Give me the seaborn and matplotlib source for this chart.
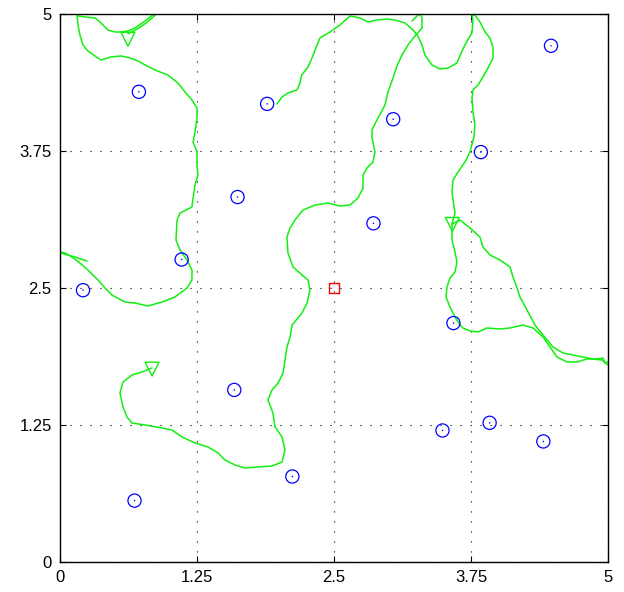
import numpy as np
import seaborn as sns
import matplotlib
matplotlib.use("Agg")
import matplotlib.pyplot as plt

# blue circles (targets)
circle_x = [4.48, 0.72, 1.89, 3.04, 3.84, 1.62, 2.86, 1.11, 0.21, 3.59, 1.59, 3.49, 3.92, 4.41, 2.12, 0.68]
circle_y = [4.71, 4.29, 4.18, 4.04, 3.74, 3.33, 3.09, 2.76, 2.48, 2.18, 1.57, 1.20, 1.27, 1.10, 0.78, 0.56]

# red square (centre)
centre_x = [2.5]
centre_y = [2.5]

# green start triangles
start_x = [0.62, 0.84, 3.58]
start_y = [4.77, 1.76, 3.08]

# green trajectories
path_a1_x = [0.858, 0.776, 0.684, 0.620, 0.557, 0.502, 0.438, 0.374, 0.319, 0.228, 0.164, 0.155]
path_a1_y = [5.0, 4.936, 4.872, 4.845, 4.836, 4.836, 4.854, 4.918, 4.964, 4.973, 4.982, 5.0]

path_a1b_x = [0.62, 0.70, 0.79, 0.87]
path_a1b_y = [4.82, 4.86, 4.92, 4.99]

path_a2_x = [0.155, 0.164, 0.182, 0.210, 0.255, 0.319, 0.374, 0.465, 0.557, 0.639, 0.712, 0.776,
             0.867, 0.985, 1.077, 1.141, 1.204, 1.250, 1.250, 1.232, 1.214, 1.250, 1.250, 1.259,
             1.232, 1.214, 1.204, 1.095, 1.068, 1.058, 1.095, 1.159, 1.204, 1.204, 1.159, 1.049,
             0.931, 0.803, 0.684, 0.593, 0.474, 0.411, 0.347, 0.255, 0.182, 0.109, 0.046, 0.0]
path_a2_y = [5.0, 4.900, 4.808, 4.717, 4.662, 4.617, 4.580, 4.608, 4.617, 4.599, 4.571, 4.535,
             4.489, 4.443, 4.370, 4.288, 4.215, 4.142, 4.051, 3.923, 3.832, 3.741, 3.622, 3.531,
             3.440, 3.321, 3.239, 3.184, 3.120, 2.938, 2.847, 2.755, 2.664, 2.573, 2.500, 2.418,
             2.372, 2.336, 2.363, 2.372, 2.436, 2.500, 2.573, 2.664, 2.728, 2.783, 2.819, 2.828]

path_a3_x = [0.0, 0.073, 0.164, 0.246]
path_a3_y = [2.819, 2.801, 2.774, 2.746]

path_b_x = [3.577, 3.604, 3.586, 3.577, 3.586, 3.631, 3.695, 3.741, 3.777, 3.786, 3.768, 3.759,
            3.768, 3.814, 3.859, 3.905, 3.951, 3.951, 3.923, 3.878, 3.832, 3.786, 3.759, 3.768,
            3.759, 3.714, 3.668, 3.622, 3.540, 3.467, 3.394, 3.330, 3.303, 3.266, 3.221, 3.148,
            3.057, 2.984, 2.892, 2.810, 2.737, 2.646, 2.555, 2.464, 2.372, 2.345, 2.299, 2.263,
            2.205, 2.190, 2.162, 2.080, 2.026, 1.980]
path_b_y = [3.084, 3.184, 3.303, 3.376, 3.485, 3.558, 3.650, 3.741, 3.878, 3.987, 4.106, 4.234,
            4.307, 4.352, 4.425, 4.507, 4.599, 4.690, 4.781, 4.836, 4.927, 4.991, 4.991, 4.936,
            4.827, 4.754, 4.662, 4.553, 4.507, 4.498, 4.535, 4.626, 4.717, 4.799, 4.854, 4.918,
            4.945, 4.954, 4.945, 4.927, 4.964, 4.982, 4.900, 4.836, 4.781, 4.717, 4.599, 4.516,
            4.443, 4.370, 4.307, 4.279, 4.243, 4.179]

path_c_x = [3.212, 3.257, 3.285, 3.303, 3.303, 3.239, 3.175, 3.120, 3.075, 3.038, 2.993, 2.965,
            2.892, 2.847, 2.847, 2.874, 2.856, 2.801, 2.765, 2.765, 2.719, 2.646, 2.555, 2.445,
            2.327, 2.217, 2.144, 2.099, 2.071, 2.080, 2.126, 2.208, 2.263, 2.281, 2.254, 2.208,
            2.117, 2.099, 2.071, 2.053, 2.035, 1.989, 1.934, 1.898, 1.943, 1.962, 2.026, 2.053,
            2.026, 1.934, 1.807, 1.688, 1.597, 1.505, 1.442, 1.350, 1.232, 1.113, 1.022, 0.931,
            0.776, 0.657, 0.611, 0.575, 0.547, 0.575, 0.657, 0.748, 0.839]
path_c_y = [4.936, 4.982, 5.0, 4.964, 4.872, 4.799, 4.717, 4.626, 4.526, 4.416, 4.288, 4.170,
            4.033, 3.942, 3.869, 3.741, 3.650, 3.595, 3.531, 3.412, 3.321, 3.257, 3.248, 3.275,
            3.257, 3.212, 3.120, 3.047, 2.965, 2.819, 2.692, 2.619, 2.573, 2.482, 2.363, 2.272,
            2.162, 2.053, 1.962, 1.843, 1.724, 1.633, 1.569, 1.478, 1.359, 1.232, 1.141, 1.022,
            0.912, 0.876, 0.867, 0.858, 0.885, 0.931, 0.995, 1.049, 1.086, 1.141, 1.204, 1.223,
            1.250, 1.268, 1.323, 1.414, 1.542, 1.642, 1.706, 1.734, 1.770]

path_e1_x = [3.577, 3.650, 3.741, 3.832, 3.859, 3.923, 4.015, 4.106, 4.133, 4.170, 4.197, 4.261,
             4.334, 4.407, 4.498, 4.589, 4.681, 4.772, 4.863, 4.945, 5.0]
path_e1_y = [3.084, 3.120, 3.047, 2.965, 2.874, 2.801, 2.755, 2.692, 2.600, 2.500, 2.418, 2.299,
             2.162, 2.071, 1.962, 1.907, 1.889, 1.870, 1.852, 1.843, 1.797]

path_e2_x = [3.577, 3.577, 3.577, 3.604, 3.622, 3.604, 3.558, 3.531, 3.522, 3.558, 3.604, 3.650,
             3.677, 3.741, 3.814, 3.896, 4.015, 4.106, 4.224, 4.316, 4.407, 4.471, 4.535, 4.626,
             4.717, 4.808, 4.900, 4.954, 4.973, 5.0]
path_e2_y = [3.084, 3.029, 2.938, 2.828, 2.737, 2.646, 2.591, 2.509, 2.418, 2.327, 2.235, 2.162,
             2.135, 2.108, 2.099, 2.135, 2.126, 2.135, 2.162, 2.135, 2.053, 1.962, 1.870, 1.825,
             1.825, 1.852, 1.852, 1.861, 1.816, 1.825]

tick_values = [0, 1.25, 2.5, 3.75, 5]
tick_labels = ["0", "1.25", "2.5", "3.75", "5"]

sns.set_theme(style="white")
plt.rcParams["font.family"] = ["Liberation Sans", "DejaVu Sans"]

green = "#10f010"

fig = plt.figure(figsize=(6.24, 5.92), dpi=100)
ax = fig.add_axes([60 / 624, 30 / 592, 548 / 624, 548 / 592])

paths = [(path_a1_x, path_a1_y), (path_a1b_x, path_a1b_y), (path_a2_x, path_a2_y),
         (path_a3_x, path_a3_y), (path_b_x, path_b_y), (path_c_x, path_c_y),
         (path_e1_x, path_e1_y), (path_e2_x, path_e2_y)]
for px, py in paths:
    sns.lineplot(x=px, y=py, sort=False, estimator=None, color=green, lw=1.1, ax=ax)

# start markers
sns.scatterplot(x=start_x, y=start_y, marker="v", s=100, color=green,
                facecolors="none", edgecolor=green, linewidth=1.0, ax=ax, zorder=3)

# targets with centre dots
sns.scatterplot(x=circle_x, y=circle_y, marker="o", s=90, color="blue",
                facecolors="none", edgecolor="blue", linewidth=0.9, ax=ax, zorder=3)
sns.scatterplot(x=circle_x, y=circle_y, marker="o", s=1.2, color="blue",
                edgecolor="none", linewidth=0, ax=ax, zorder=3)

sns.scatterplot(x=centre_x, y=centre_y, marker="s", s=48, color="#ff0000",
                facecolors="none", edgecolor="#ff0000", linewidth=1.0, ax=ax, zorder=4)

ax.set_xlim(0, 5)
ax.set_ylim(0, 5)
ax.set_xticks(tick_values)
ax.set_xticklabels(tick_labels)
ax.set_yticks(tick_values)
ax.set_yticklabels(tick_labels)
ax.tick_params(direction="in", length=4, width=0.8, color="black", labelsize=12,
               top=True, right=True, bottom=True, left=True, pad=6, labelcolor="black")

ax.grid(True, color="black", linewidth=0.8, linestyle=(0, (1, 8)))
for s in ax.spines.values():
    s.set_visible(True)
    s.set_color("black")
    s.set_linewidth(1.0)

fig.savefig("out.png", dpi=100)
